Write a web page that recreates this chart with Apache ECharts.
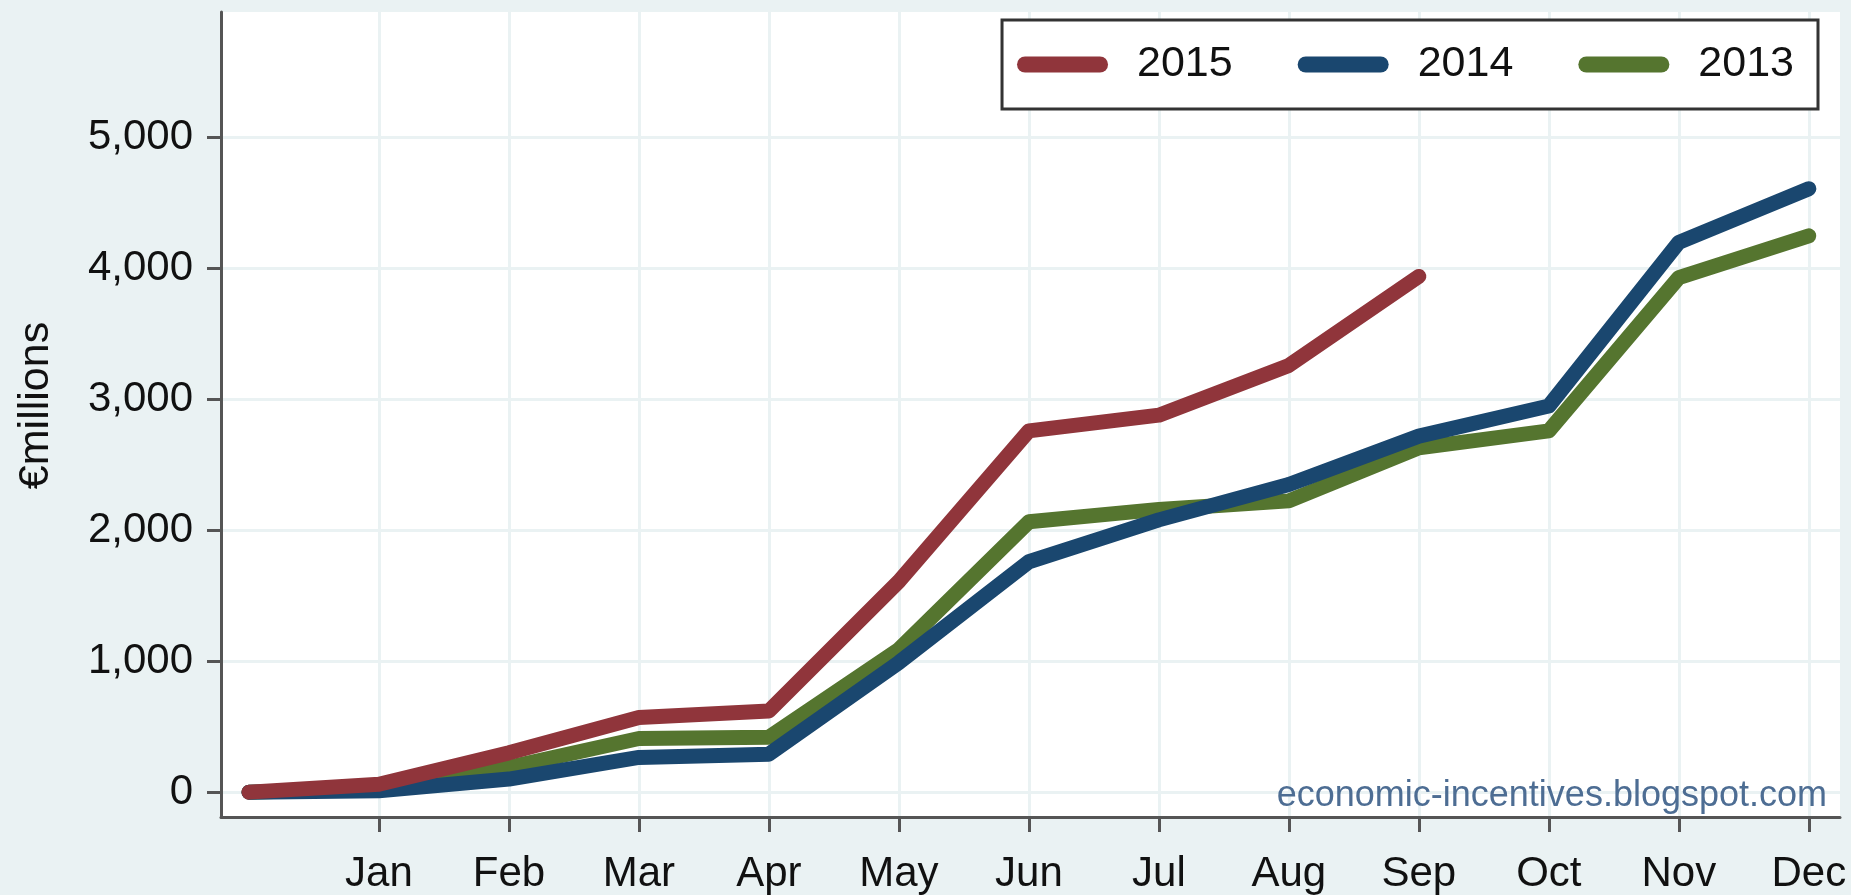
<!DOCTYPE html>
<html>
<head>
  <meta charset="utf-8">
  <title>Cumulative, €millions</title>
  <script src="https://cdn.jsdelivr.net/npm/echarts@6/dist/echarts.min.js"></script>
  <style>
    html, body { margin: 0; padding: 0; background: #eaf2f3; }
    #myChart { width: 1851px; height: 895px; }
  </style>
</head>
<body>
<div id="myChart"></div>
<script>
// x positions: 0 is the starting point, 1..12 are the months
const months = ['', 'Jan', 'Feb', 'Mar', 'Apr', 'May', 'Jun', 'Jul', 'Aug', 'Sep', 'Oct', 'Nov', 'Dec']
const yTicks = [0, 1000, 2000, 3000, 4000, 5000]
const xTicks = [1, 2, 3, 4, 5, 6, 7, 8, 9, 10, 11, 12]

const values2015 = [0, 60, 300, 570, 620, 1610, 2760, 2880, 3260, 3940]
const values2014 = [0, 10, 100, 265, 290, 990, 1760, 2080, 2350, 2720, 2950, 4200, 4610]
const values2013 = [0, 30, 190, 410, 420, 1090, 2065, 2160, 2225, 2630, 2760, 3930, 4250]

const font = 'Liberation Sans, Arial, Helvetica, sans-serif'
const capsule = 'path://M8,0 H83 A8,8 0 0 1 83,16 H8 A8,8 0 0 1 8,0 Z'

function toPoints (arr) {
  return arr.map((v, i) => [i, v])
}

function lineSeries (name, color, arr, z) {
  return {
    name: name,
    type: 'line',
    data: toPoints(arr),
    symbol: 'none',
    showSymbol: false,
    z: z,
    itemStyle: { color: color },
    lineStyle: { color: color, width: 15, cap: 'round', join: 'round' }
  }
}

let myChart = echarts.init(document.getElementById('myChart'))
let options = {
  animation: false,
  backgroundColor: '#eaf2f3',
  textStyle: { fontFamily: font },
  grid: {
    left: 221,
    right: 11,
    top: 12,
    bottom: 77,
    show: true,
    backgroundColor: '#ffffff',
    borderWidth: 0
  },
  legend: {
    data: ['2015', '2014', '2013'],
    right: 33,
    top: 20,
    orient: 'horizontal',
    padding: [23, 24, 23, 15],
    itemGap: 65,
    itemWidth: 91,
    itemHeight: 16,
    icon: capsule,
    borderColor: '#333333',
    borderWidth: 3,
    borderRadius: 0,
    backgroundColor: '#ffffff',
    selectedMode: false,
    textStyle: {
      fontFamily: font,
      fontSize: 43,
      color: '#111111',
      padding: [0, 0, 0, 24]
    }
  },
  xAxis: {
    type: 'value',
    min: -0.215,
    max: 12.24,
    axisLine: { onZero: false, lineStyle: { color: '#555555', width: 3 } },
    axisTick: {
      customValues: xTicks,
      length: 15,
      lineStyle: { color: '#555555', width: 3 }
    },
    axisLabel: {
      customValues: xTicks,
      formatter: v => months[v],
      margin: 36,
      fontSize: 42,
      fontFamily: font,
      color: '#111111'
    },
    splitLine: { show: true, lineStyle: { color: '#eaf2f3', width: 3 } }
  },
  yAxis: {
    type: 'value',
    min: -190,
    max: 5960,
    name: '€millions',
    nameLocation: 'middle',
    nameRotate: 90,
    nameGap: 163,
    nameTextStyle: { fontSize: 43, fontFamily: font, color: '#111111', padding: [0, 0, 0, 18] },
    axisLine: { show: true, onZero: false, lineStyle: { color: '#555555', width: 3 } },
    axisTick: {
      show: true,
      customValues: yTicks,
      length: 14,
      lineStyle: { color: '#555555', width: 3 }
    },
    axisLabel: {
      customValues: yTicks,
      formatter: v => v.toLocaleString('en-US'),
      margin: 28,
      fontSize: 42,
      fontFamily: font,
      color: '#111111'
    },
    splitLine: { show: true, lineStyle: { color: '#eaf2f3', width: 3 } }
  },
  graphic: [{
    type: 'text',
    right: 24,
    top: 778,
    z: 50,
    style: {
      text: 'economic-incentives.blogspot.com',
      font: '36px ' + font,
      fill: '#4d6d93'
    }
  }],
  // drawing order: 2013 first, 2015 on top
  series: [
    lineSeries('2013', '#55752f', values2013, 2),
    lineSeries('2014', '#1a476f', values2014, 3),
    lineSeries('2015', '#90353b', values2015, 4)
  ]
}
myChart.setOption(options)
</script>
</body>
</html>
